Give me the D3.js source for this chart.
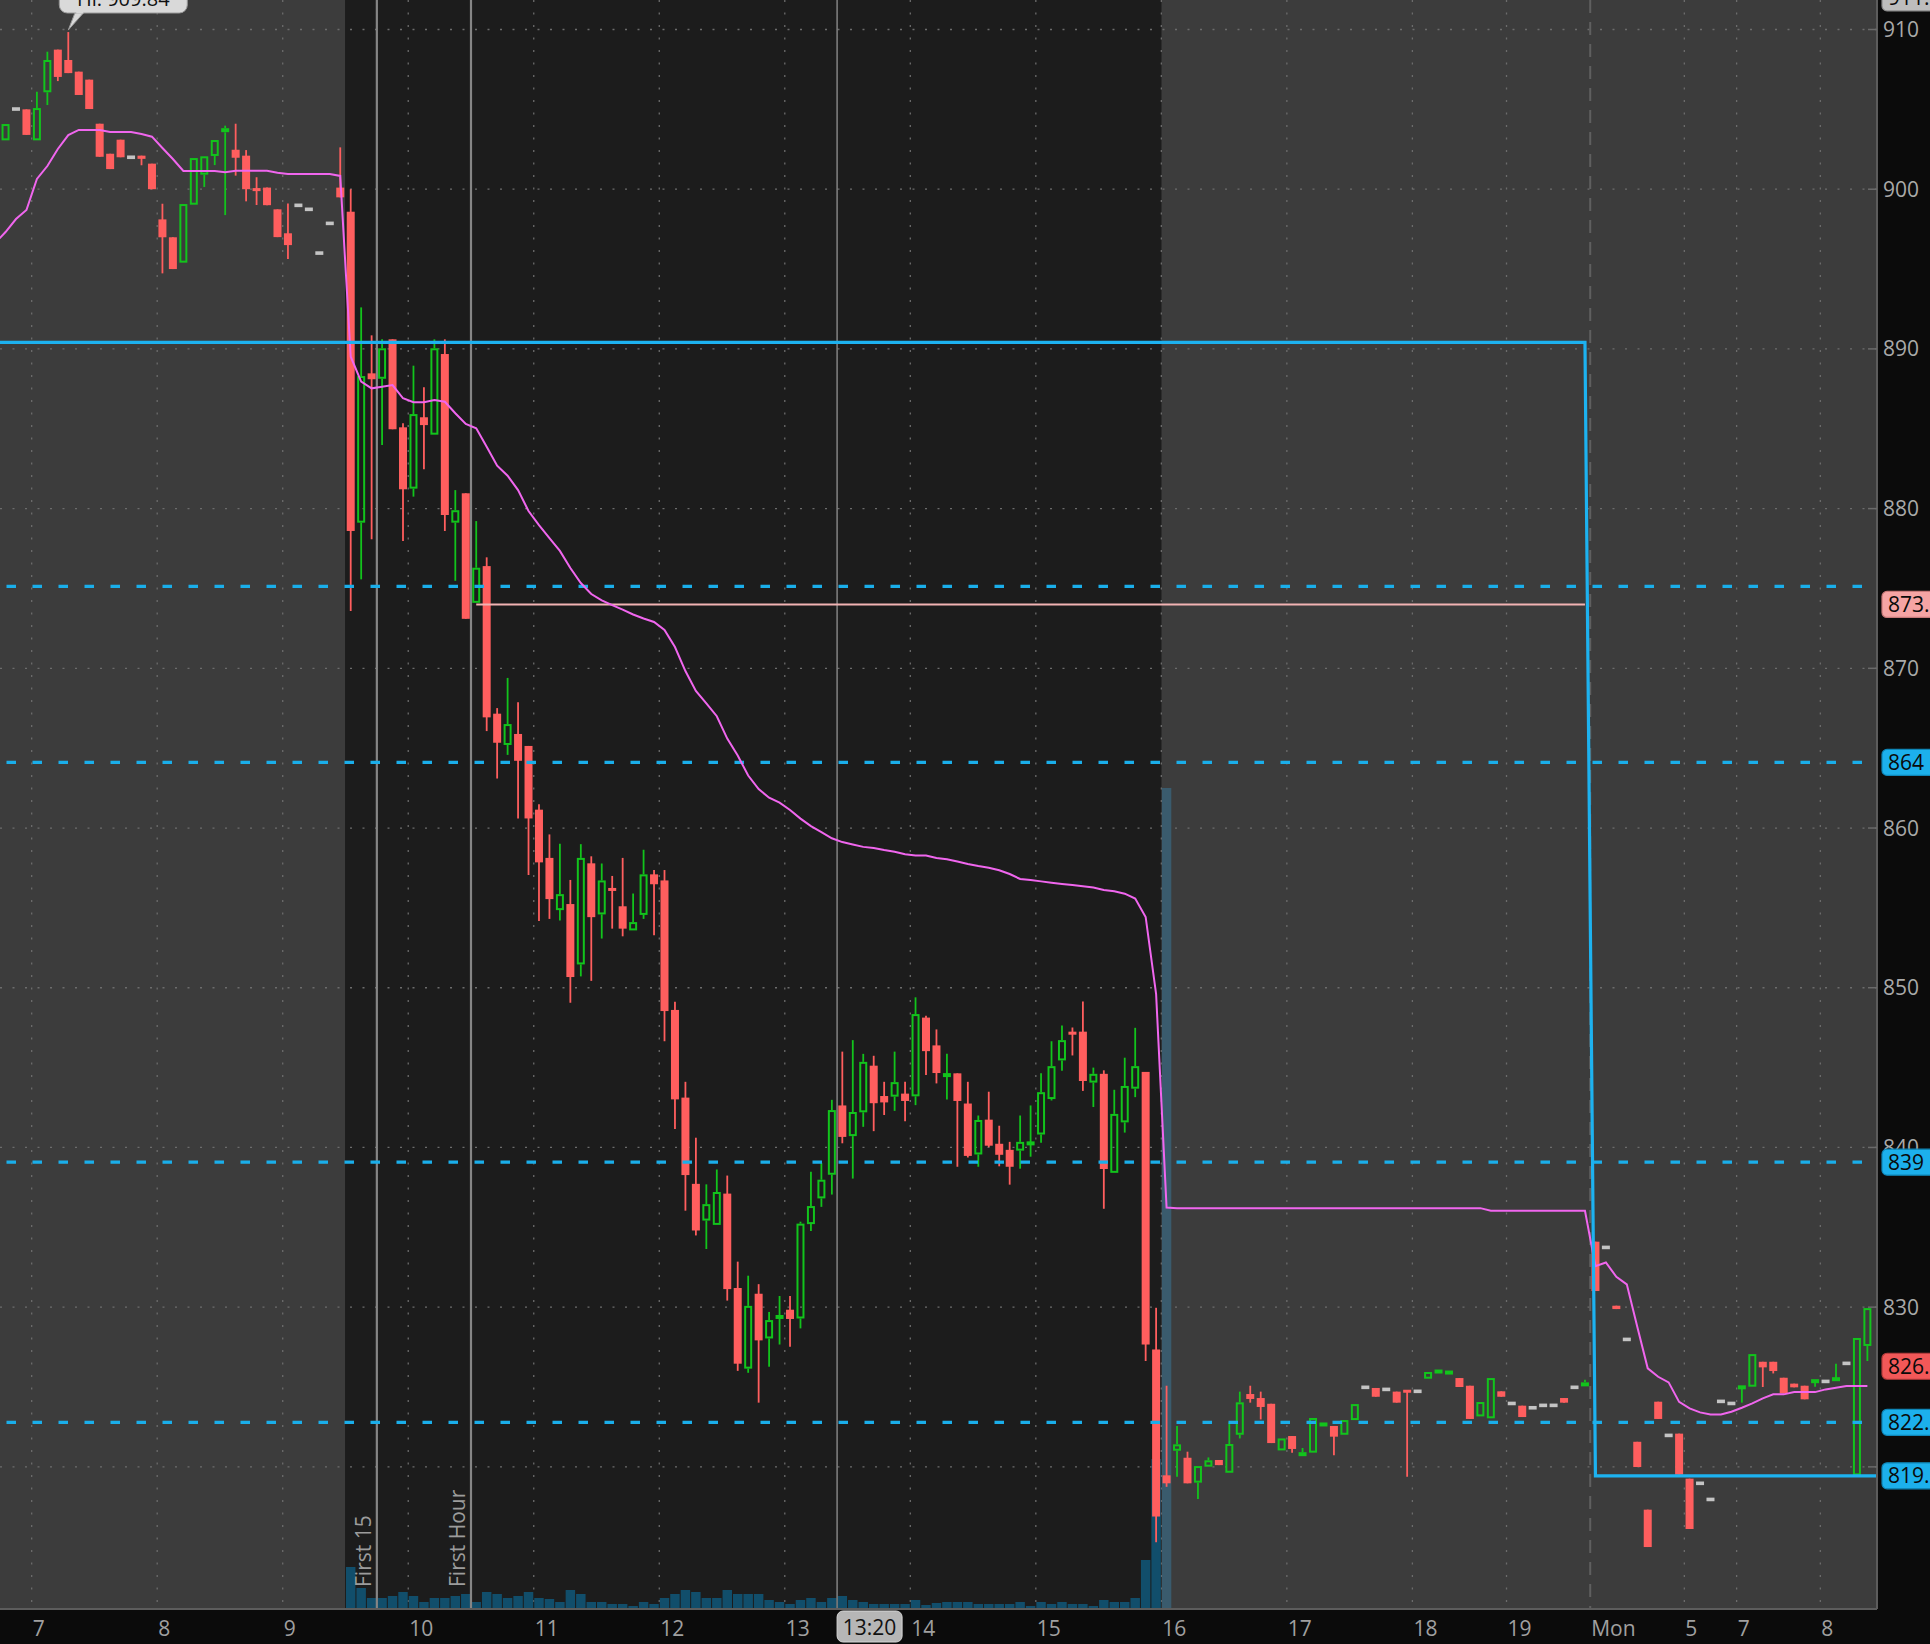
<!DOCTYPE html>
<html><head><meta charset="utf-8">
<script src="https://cdn.jsdelivr.net/npm/d3@7"></script>
<style>
html,body{margin:0;padding:0;background:#0b0b0b;}
svg{display:block;}
text{font-family:"Open Sans","Noto Sans",sans-serif;}
</style></head><body>
<svg id="chart" width="1930" height="1644"></svg>
<script>
// ---------------- DATA (bar index 0 = 6:45 slot; 33 = 9:30 open; 111 = 16:00; 152 = Mon 4:00) -------------
const opens = [
903.06,905.02,905.0,903.06,906.07,908.74,908.09,907.36,906.86,904.1,
902.22,903.1,902.0,902.1,901.6,898.11,896.99,895.4,899.03,900.91,
902.08,903.56,902.47,902.1,900.07,900.1,898.74,897.24,898.99,898.74,
896.0,897.86,900.1,898.59,879.12,888.47,888.13,890.6,885.09,881.25,
885.72,884.63,889.68,879.12,880.96,874.1,876.4,867.16,865.2,865.89,
865.14,861.15,858.13,854.86,855.24,851.46,857.79,854.59,856.24,855.1,
853.59,854.56,857.1,856.72,848.61,843.12,837.72,835.42,835.15,837.11,
831.2,826.15,830.84,828.04,829.29,829.84,829.29,835.2,836.81,838.29,
842.63,840.71,842.2,845.12,843.22,843.18,843.37,843.2,848.13,846.39,
844.45,844.64,842.75,839.56,841.74,840.23,839.85,839.8,840.18,840.81,
843.03,845.45,847.25,847.25,844.06,844.61,838.41,841.57,843.68,844.73,
827.35,819.47,821.01,820.57,819.01,820.01,820.43,819.63,822.01,824.56,
824.31,823.95,821.03,821.93,820.66,820.89,822.52,822.56,822.01,822.93,
824.98,824.94,824.85,824.71,824.81,824.73,825.52,825.9,825.77,825.56,
825.08,823.16,823.04,824.73,823.97,823.83,823.7,823.85,823.85,824.31,
824.98,825.02,834.1,833.74,830.09,827.98,821.57,817.32,824.08,821.97,
822.08,819.26,818.97,817.96,824.1,823.97,824.94,825.02,826.58,826.58,
825.58,825.21,825.08,825.29,825.35,825.42,826.48,819.47,827.57];
const highs = [
904.08,905.02,905.0,906.1,908.61,908.74,909.84,907.36,906.86,904.1,
902.22,903.1,902.0,902.1,901.6,899.09,896.99,899.07,901.95,902.06,
903.08,903.98,904.1,902.45,900.75,900.1,898.74,899.1,898.99,898.74,
896.0,897.86,902.62,900.0,892.6,890.85,890.6,890.6,885.34,888.95,
887.6,890.6,890.6,881.16,880.96,879.22,876.95,867.51,869.4,867.88,
865.14,861.49,859.6,859.02,856.75,858.99,858.23,857.78,857.0,858.13,
855.9,858.64,857.37,857.37,849.13,844.11,840.61,837.69,838.62,838.24,
832.85,831.97,831.44,829.7,830.7,830.7,835.35,838.48,839.03,842.98,
846.0,846.72,845.86,845.74,844.11,846.0,844.11,849.4,848.25,847.39,
845.86,844.64,844.11,842.0,843.49,841.36,840.35,842.0,842.63,844.64,
846.65,847.63,847.51,849.14,845.0,844.83,843.61,845.62,847.49,844.73,
829.96,825.08,822.56,820.95,820.05,820.59,820.43,822.79,824.71,825.08,
824.71,823.95,821.78,821.93,821.18,823.06,822.79,822.56,822.93,823.93,
824.98,824.94,824.85,824.71,824.81,824.73,825.94,826.04,826.04,825.56,
825.08,824.06,825.56,824.73,823.97,823.83,823.7,823.85,823.85,824.31,
824.98,825.46,834.1,833.74,830.09,827.98,821.57,817.32,824.08,821.97,
822.08,819.26,818.97,817.96,824.1,823.97,825.02,827.06,826.58,826.58,
825.58,825.21,825.08,825.44,825.35,826.46,826.48,828.07,829.94];
const lows = [
903.06,905.02,903.4,903.06,905.27,906.77,907.27,905.9,905.02,902.03,
901.26,902.0,902.0,901.5,900.0,894.73,895.0,895.4,899.03,900.14,
901.51,898.38,900.85,899.24,899.01,899.0,897.0,895.63,898.99,898.74,
896.0,897.86,899.49,873.59,875.57,878.08,883.98,884.97,877.97,880.75,
882.46,884.63,878.6,875.48,873.1,874.1,866.07,863.1,864.58,860.6,
857.06,854.18,854.31,854.21,849.06,850.71,850.43,853.08,853.7,853.22,
853.59,854.31,853.28,846.65,841.16,836.04,834.49,833.64,835.15,830.41,
826.01,825.89,824.02,826.27,827.66,827.52,828.67,834.77,836.28,837.05,
840.26,838.05,841.29,841.02,842.03,842.29,841.64,842.65,844.54,844.01,
843.01,838.79,839.37,838.79,840.02,838.82,837.67,838.67,839.42,840.3,
842.94,844.81,845.76,843.54,842.53,836.16,838.41,840.93,843.15,826.63,
815.28,818.75,819.38,818.97,817.98,820.01,820.11,819.63,821.78,824.02,
822.97,821.49,821.03,820.89,820.66,820.89,822.52,820.72,822.01,822.93,
824.98,824.39,824.85,824.02,819.38,824.73,825.52,825.9,825.77,825.0,
823.0,823.16,823.04,824.39,823.97,823.12,823.7,823.85,823.85,824.02,
824.98,825.02,831.01,833.74,829.88,827.98,819.99,814.98,823.0,821.97,
819.51,816.11,818.97,817.96,824.1,823.97,824.02,825.02,825.0,825.85,
824.6,824.98,824.23,825.02,825.35,825.42,826.48,819.47,826.63];
const closes = [
904.08,905.02,903.4,905.08,908.09,907.03,907.27,905.9,905.02,902.03,
901.26,902.0,902.0,901.9,900.0,896.99,895.0,899.07,901.95,902.06,
903.08,903.83,901.97,900.0,899.88,899.0,897.0,896.5,898.99,898.74,
896.0,897.86,899.49,878.6,888.3,888.1,890.04,884.97,881.21,885.92,
885.23,890.04,879.6,879.9,873.1,876.3,866.93,865.34,866.51,864.21,
860.6,857.85,855.55,855.86,850.67,858.13,854.42,856.72,856.07,853.7,
854.11,857.1,856.48,848.54,843.01,838.27,834.8,836.45,837.21,831.13,
826.46,830.08,827.92,829.19,829.48,829.26,835.23,836.33,837.98,842.34,
840.66,842.22,845.36,842.77,842.82,844.09,842.91,848.35,846.03,844.66,
844.61,842.91,839.47,841.72,840.11,839.54,838.79,840.35,840.33,843.46,
845.09,846.72,847.06,844.16,844.61,838.65,842.1,843.85,845.09,827.66,
816.89,818.97,821.41,818.97,820.05,820.41,820.11,821.43,824.04,824.25,
823.75,821.49,821.78,821.12,820.93,823.06,822.79,821.89,822.93,823.93,
824.98,824.39,824.85,824.02,824.66,824.73,825.94,826.04,826.04,825.0,
823.0,824.06,825.56,824.39,823.97,823.12,823.7,823.85,823.85,824.02,
824.98,825.31,831.01,833.74,829.88,827.98,819.99,814.98,823.0,821.97,
819.51,816.11,818.97,817.96,824.1,823.97,825.02,827.06,826.23,826.0,
824.6,824.98,824.23,825.44,825.35,825.56,826.48,828.07,829.94];

// volume (thousands of shares), bars 33..111
const volumeStart = 33;
const volumes = [
84,42,22,22,26,34,26,14,22,22,
26,30,14,34,30,22,26,34,22,20,
14,38,30,14,14,10,10,6,14,10,
22,30,38,34,22,22,38,30,30,30,
18,14,10,18,22,14,22,26,18,14,
10,10,10,10,18,8,12,14,14,14,
10,10,10,10,14,6,14,10,14,10,
10,6,18,14,14,22,98,300,1642];

// VWAP, bars -1..178
const vwapStart = -1;
const vwap = [
896.63,897.32,898.13,898.70,900.64,901.45,902.52,903.39,903.71,903.71,
903.71,903.58,903.58,903.58,903.46,903.29,902.58,901.89,901.14,901.14,
901.14,901.14,901.06,901.16,901.16,901.16,901.16,901.03,900.95,900.95,
900.95,900.95,900.95,900.83,889.51,887.95,887.53,887.63,887.74,886.91,
886.66,886.66,886.80,886.69,885.97,885.30,885.03,883.88,882.69,882.06,
881.16,879.85,878.97,878.16,877.35,876.28,875.34,874.65,874.25,873.96,
873.68,873.37,873.12,872.90,872.40,871.33,869.83,868.58,867.80,867.00,
865.60,864.54,863.29,862.44,861.90,861.59,861.13,860.59,860.12,859.75,
859.36,859.12,858.97,858.82,858.75,858.62,858.51,858.36,858.28,858.28,
858.12,858.05,857.90,857.75,857.62,857.51,857.36,857.12,856.81,856.74,
856.66,856.58,856.50,856.43,856.35,856.27,856.12,856.04,855.89,855.58,
854.43,849.60,836.24,
836.20,836.20,836.20,836.20,836.20,836.20,836.20,836.20,836.20,836.20,
836.20,836.20,836.20,836.20,836.20,836.20,836.20,836.20,836.20,836.20,
836.20,836.20,836.20,836.20,836.20,836.20,836.20,836.20,836.20,836.20,
836.04,836.04,836.04,836.04,836.04,836.04,836.04,836.04,836.04,836.04,
832.57,832.80,831.90,831.43,828.77,826.17,825.64,825.29,824.07,823.66,
823.41,823.28,823.28,823.45,823.70,823.97,824.29,824.54,824.54,824.68,
824.68,824.68,824.85,824.95,825.06,825.06,825.06];

// levels
const dashedLevels = [875.13, 864.11, 839.08, 822.79];
const rangeLineBars = [-1, 151, 152, 181];
const rangeLineValues = [890.41, 890.41, 819.44, 819.44];
const pinkLevelBars = [45, 151];
const pinkLevelValue = 874.0;

// axes
const priceGrid = [820, 830, 840, 850, 860, 870, 880, 890, 900, 910];
const priceLabels = [830, 840, 850, 860, 870, 880, 890, 900, 910];
const timeTickSlots = [3, 15, 27, 39, 51, 63, 75, 87, 99, 111, 123, 135, 144, 152, 161, 166, 174];
const timeTickLabels = ["7","8","9","10","11","12","13","14","15","16","17","18","19","Mon","5","7","8"];
const daySeparatorSlot = 152;
const sessionFrom = [-2, 33, 111];
const sessionTo = [33, 111, 182];
const sessionExtended = [true, false, true];
const markerSlots = [36, 45];
const markerLabels = ["First 15", "First Hour"];
const cursorSlot = 80, cursorLabel = "13:20";
const hiBar = 6, hiText = "Hi: 909.84";
const bubbleValues = [911.98, 874.0, 864.11, 839.08, 826.3, 822.79, 819.44];
const bubbleTexts = ["911.", "873.", "864", "839", "826.", "822.", "819."];
const bubbleKinds = ["gray", "pink", "cyan", "cyan", "red", "cyan", "cyan"];

// ---------------- LAYOUT ----------------
const plotRight = 1877, plotBottom = 1609;
const x = d3.scaleLinear().domain([0, 179.4]).range([0.3, 1876.8]);
const xc = i => x(i + 0.5);
const y = d3.scaleLinear().domain([811.1, 911.847]).range([plotBottom, 0]);
const vY = d3.scaleLinear().domain([0, 2000]).range([plotBottom, plotBottom - 1000]);

const svg = d3.select('#chart');
svg.append('rect').attr('width', 1930).attr('height', 1644).attr('fill', '#0b0b0b');
svg.append('defs').append('clipPath').attr('id', 'clip')
  .append('rect').attr('x', 0).attr('y', 0).attr('width', plotRight).attr('height', plotBottom);
const P = svg.append('g').attr('clip-path', 'url(#clip)');

// sessions
const sessions = sessionFrom.map((f, k) => ({from: f, to: sessionTo[k], ext: sessionExtended[k]}));
P.selectAll('rect.sess').data(sessions).join('rect').attr('class', 'sess')
  .attr('x', d => x(d.from)).attr('width', d => x(d.to) - x(d.from))
  .attr('y', 0).attr('height', plotBottom)
  .attr('fill', d => d.ext ? '#3c3c3c' : '#1c1c1c');

// grid
P.selectAll('line.hg').data(priceGrid).join('line').attr('class', 'hg')
  .attr('x1', 0).attr('x2', plotRight).attr('y1', d => y(d)).attr('y2', d => y(d))
  .attr('stroke', '#6c6c6c').attr('stroke-width', 1.3).attr('stroke-dasharray', '2,10.5');
P.selectAll('line.vg').data(timeTickSlots.filter(s => s !== daySeparatorSlot)).join('line').attr('class', 'vg')
  .attr('x1', d => x(d)).attr('x2', d => x(d)).attr('y1', 0).attr('y2', plotBottom)
  .attr('stroke', '#6c6c6c').attr('stroke-width', 1.3).attr('stroke-dasharray', '2,10.5');
P.append('line').attr('x1', x(daySeparatorSlot)).attr('x2', x(daySeparatorSlot))
  .attr('y1', 0).attr('y2', plotBottom).attr('stroke', '#5f5f5f').attr('stroke-width', 2)
  .attr('stroke-dasharray', '13,9');

// volume
const vols = volumes.map((v, k) => ({i: volumeStart + k, v}));
P.selectAll('rect.vol').data(vols).join('rect').attr('class', 'vol')
  .attr('x', d => x(d.i) + 0.5).attr('width', d => x(d.i + 1) - x(d.i) - 1)
  .attr('y', d => vY(d.v)).attr('height', d => plotBottom - vY(d.v))
  .attr('fill', d => d.i >= 111 ? '#3a5b6d' : '#114e6b');

// marker lines
P.selectAll('line.mk').data(markerSlots).join('line').attr('class', 'mk')
  .attr('x1', d => x(d)).attr('x2', d => x(d)).attr('y1', 0).attr('y2', plotBottom)
  .attr('stroke', '#858585').attr('stroke-width', 2.2);
P.append('line').attr('x1', x(cursorSlot)).attr('x2', x(cursorSlot)).attr('y1', 0).attr('y2', plotBottom)
  .attr('stroke', '#8a8a8a').attr('stroke-width', 1.4);
P.selectAll('text.mkl').data(markerSlots).join('text').attr('class', 'mkl')
  .attr('transform', d => `translate(${x(d) - 6},${plotBottom - 22}) rotate(-90)`)
  .attr('font-size', 21).attr('fill', '#9c9c9c')
  .text((d, k) => markerLabels[k]);

// candles
const bars = opens.map((o, i) => ({i, o, h: highs[i], l: lows[i], c: closes[i]}));
const dir = d => d.c > d.o ? 'up' : (d.c < d.o ? 'down' : 'flat');
const RED = '#ff5e5e', GREEN = '#12c41c', GRAY = '#c4c4c4';
const C = P.append('g');
const downs = bars.filter(d => dir(d) === 'down');
const ups = bars.filter(d => dir(d) === 'up');
const flats = bars.filter(d => dir(d) === 'flat');
C.selectAll('line.dw').data(downs).join('line')
  .attr('x1', d => xc(d.i)).attr('x2', d => xc(d.i)).attr('y1', d => y(d.h)).attr('y2', d => y(d.l))
  .attr('stroke', RED).attr('stroke-width', 1.8);
C.selectAll('rect.db').data(downs).join('rect')
  .attr('x', d => xc(d.i) - 4).attr('width', 8)
  .attr('y', d => Math.min(y(d.o), (y(d.o) + y(d.c)) / 2 - 1.5))
  .attr('height', d => Math.max(3, y(d.c) - y(d.o)))
  .attr('fill', RED);
C.selectAll('line.uwt').data(ups).join('line')
  .attr('x1', d => xc(d.i)).attr('x2', d => xc(d.i)).attr('y1', d => y(d.h)).attr('y2', d => y(d.c))
  .attr('stroke', GREEN).attr('stroke-width', 1.8);
C.selectAll('line.uwb').data(ups).join('line')
  .attr('x1', d => xc(d.i)).attr('x2', d => xc(d.i)).attr('y1', d => y(d.o)).attr('y2', d => y(d.l))
  .attr('stroke', GREEN).attr('stroke-width', 1.8);
C.selectAll('rect.ub').data(ups).join('rect')
  .each(function (d) {
    const top = y(d.c), bot = y(d.o), hgt = bot - top;
    const r = d3.select(this);
    if (hgt < 5) {
      r.attr('x', xc(d.i) - 4).attr('width', 8).attr('y', (top + bot) / 2 - 2).attr('height', 4)
        .attr('fill', GREEN);
    } else {
      r.attr('x', xc(d.i) - 3).attr('width', 6).attr('y', top + 1).attr('height', hgt - 2)
        .attr('fill', 'none').attr('stroke', GREEN).attr('stroke-width', 2);
    }
  });
C.selectAll('rect.fb').data(flats).join('rect')
  .attr('x', d => xc(d.i) - 4).attr('width', 8).attr('y', d => y(d.o) - 1.8).attr('height', 3.6)
  .attr('fill', GRAY);

// pink level
const pinkPts = pinkLevelBars.map(b => [b, pinkLevelValue]);
P.append('path').attr('d', d3.line().x(d => xc(d[0])).y(d => y(d[1]))(pinkPts))
  .attr('fill', 'none').attr('stroke', '#f2b3b3').attr('stroke-width', 2);

// dashed levels
P.selectAll('line.dl').data(dashedLevels).join('line')
  .attr('x1', 0).attr('x2', plotRight).attr('y1', d => y(d)).attr('y2', d => y(d))
  .attr('stroke', '#1aaeea').attr('stroke-width', 3.2)
  .attr('stroke-dasharray', '9.5,16.5').attr('stroke-dashoffset', 19.5);

// VWAP
const vw = vwap.map((v, k) => [vwapStart + k, v]);
P.append('path').attr('d', d3.line().x(d => xc(d[0])).y(d => y(d[1]))(vw))
  .attr('fill', 'none').attr('stroke', '#f066ee').attr('stroke-width', 2);

// range line
const rl = rangeLineBars.map((b, k) => [b, rangeLineValues[k]]);
P.append('path').attr('d', d3.line().x(d => xc(d[0])).y(d => y(d[1]))(rl))
  .attr('fill', 'none').attr('stroke', '#1db2f0').attr('stroke-width', 3.2);

// Hi bubble
const ax = xc(hiBar), ay = y(highs[hiBar]);
const HG = svg.append('g');
HG.append('path')
  .attr('d', `M${ax + 7},12 L${ax},${ay - 2} L${ax + 16},12 Z`)
  .attr('fill', '#d9d9d9').attr('stroke', '#9a9a9a').attr('stroke-width', 1);
HG.append('rect').attr('x', ax - 9).attr('y', -24).attr('width', 128).attr('height', 37).attr('rx', 8)
  .attr('fill', '#d9d9d9').attr('stroke', '#9a9a9a').attr('stroke-width', 1);
HG.append('path').attr('d', `M${ax + 8},12.5 L${ax + 15},12.5`).attr('stroke', '#d9d9d9').attr('stroke-width', 2);
HG.append('text').attr('x', ax + 55).attr('y', 6).attr('text-anchor', 'middle')
  .attr('font-size', 20).attr('fill', '#111').text(hiText);

// axes frames
svg.append('line').attr('x1', plotRight).attr('x2', plotRight).attr('y1', 0).attr('y2', plotBottom)
  .attr('stroke', '#5c5c5c').attr('stroke-width', 2);
svg.append('line').attr('x1', 0).attr('x2', plotRight).attr('y1', plotBottom).attr('y2', plotBottom)
  .attr('stroke', '#5c5c5c').attr('stroke-width', 2);
svg.selectAll('line.yt').data(priceGrid).join('line')
  .attr('x1', plotRight - 9).attr('x2', plotRight).attr('y1', d => y(d)).attr('y2', d => y(d))
  .attr('stroke', '#6a6a6a').attr('stroke-width', 1.5);
svg.selectAll('text.yl').data(priceLabels).join('text')
  .attr('x', plotRight + 6).attr('y', d => y(d)).attr('dy', '0.36em')
  .attr('font-size', 21).attr('fill', '#a9a9a9').text(d => d);

// price bubbles
const kindFill = {gray: '#bdbdbd', pink: '#f5a4a4', cyan: '#1cb0ec', red: '#f25858'};
const kindStroke = {gray: '#8a8a8a', pink: '#c87a7a', cyan: '#0e86b8', red: '#b73c3c'};
const bub = bubbleValues.map((v, k) => ({v, t: bubbleTexts[k], kind: bubbleKinds[k]}));
const BG = svg.selectAll('g.bub').data(bub).join('g');
BG.append('rect').attr('x', plotRight + 5).attr('y', d => y(d.v) - 13).attr('width', 70).attr('height', 26)
  .attr('rx', 5).attr('fill', d => kindFill[d.kind]).attr('stroke', d => kindStroke[d.kind]).attr('stroke-width', 1.2);
BG.append('text').attr('x', plotRight + 11).attr('y', d => y(d.v)).attr('dy', '0.36em')
  .attr('font-size', 21).attr('fill', '#0a0a0a').text(d => d.t);

// time axis
svg.selectAll('text.xl').data(timeTickSlots).join('text')
  .attr('x', d => x(d) + 1).attr('y', 1636)
  .attr('font-size', 21).attr('fill', '#a0a0a0')
  .text((d, k) => timeTickLabels[k]);
svg.append('rect').attr('x', x(cursorSlot)).attr('y', 1611).attr('width', 65).attr('height', 31).attr('rx', 6)
  .attr('fill', '#b6b6b6').attr('stroke', '#d6d6d6').attr('stroke-width', 1);
svg.append('text').attr('x', x(cursorSlot) + 32.5).attr('y', 1635).attr('text-anchor', 'middle')
  .attr('font-size', 21).attr('fill', '#111').text(cursorLabel);
</script>
</body></html>
